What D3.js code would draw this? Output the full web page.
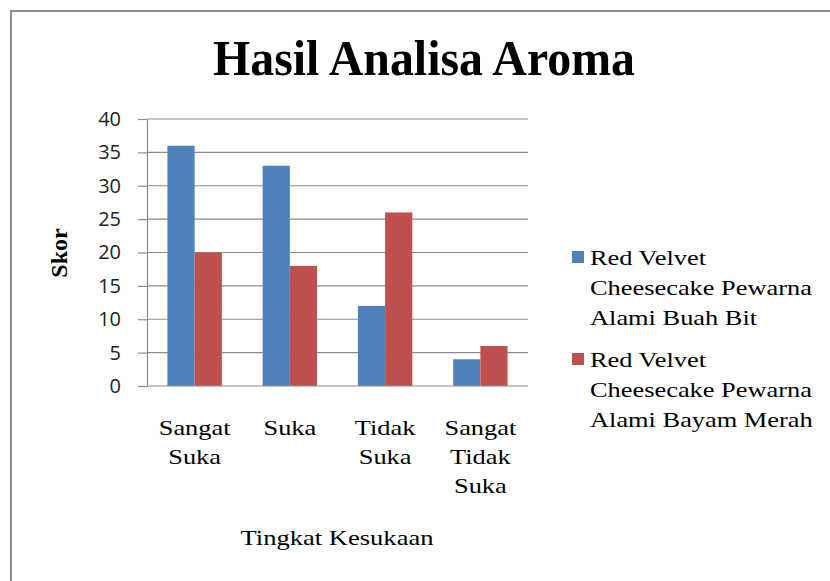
<!DOCTYPE html>
<html>
<head>
<meta charset="utf-8">
<script src="https://cdn.jsdelivr.net/npm/d3@7"></script>
<style>
  body { margin: 0; background: #fff; }
</style>
</head>
<body>
<div id="chart"></div>
<script>
var categories = [["Sangat", "Suka"], ["Suka"], ["Tidak", "Suka"], ["Sangat", "Tidak", "Suka"]];
var seriesNames = [
    ["Red Velvet", "Cheesecake Pewarna", "Alami Buah Bit"],
    ["Red Velvet", "Cheesecake Pewarna", "Alami Bayam Merah"]
];
var buahBit = [36, 33, 12, 4];
var bayamMerah = [20, 18, 26, 6];
var yTicks = [0, 5, 10, 15, 20, 25, 30, 35, 40];
var colors = ["#4f81bd", "#c0504d"];

var W = 830, H = 581;
var plot = {left: 147, right: 528, top: 119, bottom: 386};
var serif = "'Liberation Serif', 'Times New Roman', serif";
var stretch = 1.2; // serif labels in the original are drawn a bit wide

var svg = d3.select("#chart").append("svg")
    .attr("width", W)
    .attr("height", H);

svg.append("rect").attr("width", W).attr("height", H).attr("fill", "#fff");

// outer frame (left and top visible)
svg.append("path")
    .attr("d", "M11,581 L11,11 L830,11")
    .attr("fill", "none")
    .attr("stroke", "#8c8c8c")
    .attr("stroke-width", 2);

var series = [buahBit, bayamMerah];
var catIdx = d3.range(categories.length);

var x = d3.scaleBand()
    .domain(catIdx)
    .range([plot.left, plot.right])
    .padding(0);

var barW = x.bandwidth() / 3.5;

var y = d3.scaleLinear()
    .domain([0, 40])
    .range([plot.bottom, plot.top]);

// gridlines
svg.append("g")
    .selectAll("line")
    .data(yTicks.filter(function(d) { return d > 0; }))
    .enter().append("line")
    .attr("x1", plot.left).attr("x2", plot.right)
    .attr("y1", function(d) { return y(d); })
    .attr("y2", function(d) { return y(d); })
    .attr("stroke", "#8c8c8c")
    .attr("stroke-width", 1.2);

// y axis
var yAxis = svg.append("g")
    .attr("transform", "translate(" + plot.left + ",0)")
    .call(d3.axisLeft(y).tickValues(yTicks).tickSize(9).tickPadding(17).tickSizeOuter(0));
yAxis.select(".domain").attr("stroke", "#8c8c8c").attr("stroke-width", 1.2);
yAxis.selectAll(".tick line").attr("stroke", "#8c8c8c").attr("stroke-width", 1.2);
yAxis.selectAll(".tick text")
    .attr("font-family", "'Open Sans', sans-serif")
    .attr("font-size", "20px")
    .attr("fill", "#222");

// bars
series.forEach(function(vals, s) {
    svg.append("g")
        .attr("fill", colors[s])
        .selectAll("rect")
        .data(vals)
        .enter().append("rect")
        .attr("x", function(d, i) { return x(i) + barW * 0.75 + s * barW; })
        .attr("y", function(d) { return y(d); })
        .attr("width", barW)
        .attr("height", function(d) { return y(0) - y(d); });
});

// x axis baseline
svg.append("line")
    .attr("x1", plot.left).attr("x2", plot.right)
    .attr("y1", y(0)).attr("y2", y(0))
    .attr("stroke", "#8c8c8c")
    .attr("stroke-width", 1.2);

// category labels
var xl = svg.append("g")
    .selectAll("text")
    .data(categories)
    .enter().append("text")
    .attr("text-anchor", "middle")
    .attr("font-family", serif)
    .attr("font-size", "22px")
    .attr("fill", "#000")
    .attr("transform", function(d, i) {
        return "translate(" + (x(i) + x.bandwidth() / 2) + ",435) scale(" + stretch + ",1)";
    });
xl.selectAll("tspan")
    .data(function(d) { return d; })
    .enter().append("tspan")
    .attr("x", 0)
    .attr("y", function(d, j) { return j * 29; })
    .text(function(d) { return d; });

// title
svg.append("text")
    .attr("x", 424).attr("y", 75)
    .attr("text-anchor", "middle")
    .attr("font-family", serif)
    .attr("font-weight", "bold")
    .attr("font-size", "50px")
    .attr("textLength", 422)
    .attr("lengthAdjust", "spacingAndGlyphs")
    .text("Hasil Analisa Aroma");

// axis titles
svg.append("text")
    .attr("transform", "translate(67,253) rotate(-90)")
    .attr("text-anchor", "middle")
    .attr("font-family", serif)
    .attr("font-weight", "bold")
    .attr("font-size", "24px")
    .text("Skor");

svg.append("text")
    .attr("x", 337).attr("y", 545)
    .attr("text-anchor", "middle")
    .attr("font-family", serif)
    .attr("font-size", "22px")
    .attr("textLength", 193)
    .attr("lengthAdjust", "spacingAndGlyphs")
    .text("Tingkat Kesukaan");

// legend
var legend = svg.append("g")
    .selectAll("g")
    .data(seriesNames)
    .enter().append("g")
    .attr("transform", function(d, i) { return "translate(572," + (251 + i * 102) + ")"; });
legend.append("rect")
    .attr("width", 12).attr("height", 12)
    .attr("fill", function(d, i) { return colors[i]; });
var lt = legend.append("text")
    .attr("font-family", serif)
    .attr("font-size", "22px")
    .attr("fill", "#000")
    .attr("transform", "translate(18,0) scale(" + stretch + ",1)");
lt.selectAll("tspan")
    .data(function(d) { return d; })
    .enter().append("tspan")
    .attr("x", 0)
    .attr("y", function(d, j) { return 14 + j * 30; })
    .text(function(d) { return d; });
</script>
</body>
</html>
